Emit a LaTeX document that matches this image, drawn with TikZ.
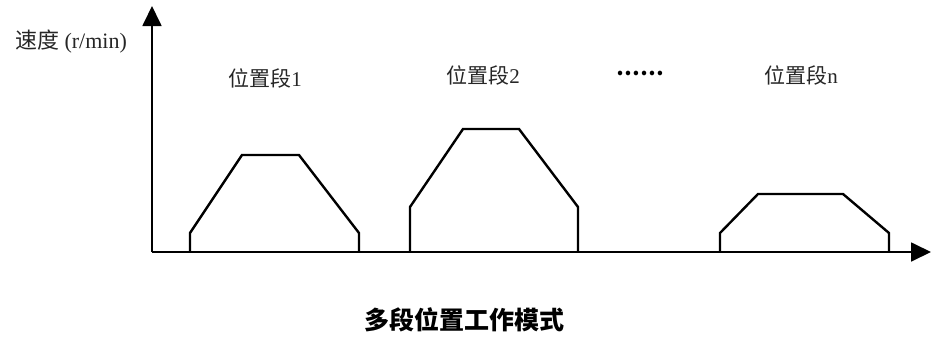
\documentclass[tikz,border=0pt]{standalone}
\usepackage{fontspec}
\setmainfont{Liberation Serif}
\newfontfamily\cjk{Noto Sans CJK SC}
\usetikzlibrary{arrows.meta}
\tikzstyle{axis} = [line width=1.8pt, -{Triangle[length=20pt,width=19pt]}]
\tikzstyle{seg} = [line width=2.4pt, line join=miter]
\tikzstyle{ann} = [font=\fontsize{21}{24}\selectfont, inner sep=0pt, text=black!85]
\tikzstyle{title} = [font=\fontsize{25}{28}\selectfont\bfseries, inner sep=0pt]
\def\base{252}

\begin{document}
\begin{tikzpicture}[x=1pt,y=-1pt]
    \useasboundingbox (0,0) rectangle (931,338);

    \coordinate (origin) at (152,\base);
    \coordinate (ytip) at (152,6);
    \coordinate (xtip) at (931,\base);
    \path [draw, axis] (origin) -- (ytip);
    \path [draw, axis] (origin) -- (xtip);

    % speed profile of each position segment
    \path [draw, seg] (190,\base) -- (190,233) -- (242,155) -- (299,155) -- (359,233) -- (359,\base);
    \path [draw, seg] (410,\base) -- (410,207) -- (463,129) -- (519,129) -- (578,207) -- (578,\base);
    \path [draw, seg] (720,\base) -- (720,233) -- (758,194) -- (843,194) -- (889,233) -- (889,\base);

    \node (speed) [ann, font=\fontsize{22}{24}\selectfont] at (71,42) {{\cjk 速度} (r/min)};
    \node (seg1) [ann] at (265,78) {{\cjk 位置段}1};
    \node (seg2) [ann] at (483,75) {{\cjk 位置段}2};
    \node (dots) [ann, font=\fontsize{21}{24}\selectfont\bfseries, text=black] at (640,73) {\cjk ……};
    \node (segn) [ann] at (801,75) {{\cjk 位置段}n};

    \node (caption) [title] at (464,320) {\cjk 多段位置工作模式};
\end{tikzpicture}
\end{document}
